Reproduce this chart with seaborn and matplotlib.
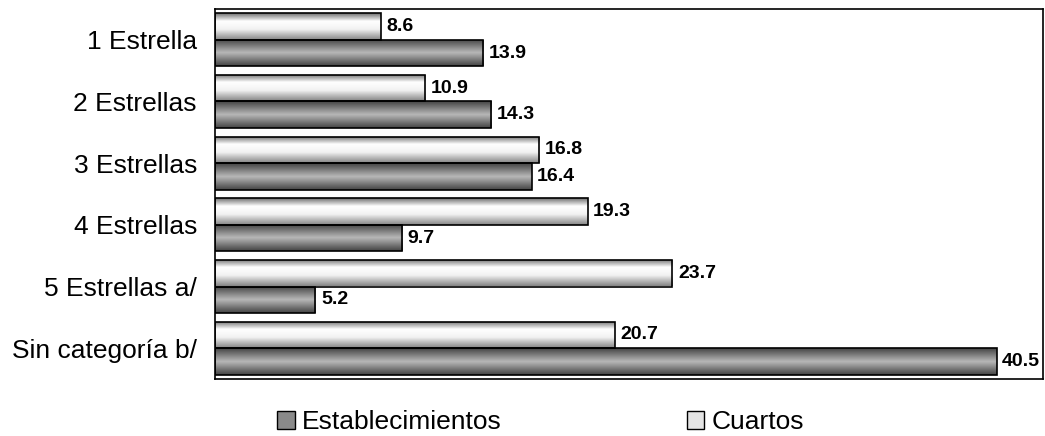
import numpy as np
import pandas as pd
import matplotlib
matplotlib.use('Agg')
import matplotlib.pyplot as plt
import seaborn as sns
from matplotlib.colors import LinearSegmentedColormap
from matplotlib.patches import Patch

# Data
categorias = ['1 Estrella', '2 Estrellas', '3 Estrellas', '4 Estrellas',
              '5 Estrellas a/', 'Sin categoría b/']
cuartos = [8.6, 10.9, 16.8, 19.3, 23.7, 20.7]
establecimientos = [13.9, 14.3, 16.4, 9.7, 5.2, 40.5]
series = ['Cuartos', 'Establecimientos']

df = pd.DataFrame({
    'categoria': categorias * 2,
    'serie': ['Cuartos'] * len(cuartos) + ['Establecimientos'] * len(establecimientos),
    'valor': cuartos + establecimientos,
})

sns.set_theme(style='white')
plt.rcParams['font.family'] = ['Liberation Sans', 'DejaVu Sans']
plt.rcParams['text.color'] = 'black'
plt.rcParams['ytick.color'] = 'black'

fig = plt.figure(figsize=(10.45, 4.36), dpi=100)
ax = fig.add_axes([215 / 1045, 1 - 379 / 436, 828 / 1045, 370 / 436])

sns.barplot(data=df, x='valor', y='categoria', hue='serie', hue_order=series,
            order=categorias, orient='h', width=0.86, errorbar=None,
            palette=['#f0f0f0', '#909090'], saturation=1,
            edgecolor='black', linewidth=1.2, legend=False, ax=ax)

# cylinder-like gradient fills, clipped to each bar
grad_cuartos = LinearSegmentedColormap.from_list(
    'cuartos', [(0, '#707070'), (0.3, '#ffffff'), (0.6, '#f2f2f2'), (1, '#858585')])
grad_estab = LinearSegmentedColormap.from_list(
    'estab', [(0, '#444444'), (0.5, '#b8b8b8'), (1, '#444444')])
grad = np.linspace(0, 1, 64).reshape(-1, 1)

for container, cmap in zip(ax.containers, [grad_cuartos, grad_estab]):
    for bar in container:
        x0, y0 = bar.get_x(), bar.get_y()
        w, h = bar.get_width(), bar.get_height()
        im = ax.imshow(grad, cmap=cmap, aspect='auto', origin='upper',
                       extent=(x0, x0 + w, y0 + h, y0), zorder=2,
                       interpolation='bilinear')
        im.set_clip_path(bar)
        bar.set_facecolor('none')
        bar.set_zorder(3)
    ax.bar_label(container, fmt='%.1f', padding=4, fontweight='bold',
                 fontsize=14, color='black')

ax.set_xlim(0, 42.9)
ax.set_ylim(len(categorias) - 0.5, -0.5)
ax.set_xticks([])
ax.set_xlabel('')
ax.set_ylabel('')
ax.tick_params(axis='y', length=0, pad=13, labelsize=19, labelcolor='black')
for spine in ax.spines.values():
    spine.set_visible(True)
    spine.set_color('black')
    spine.set_linewidth(1.2)

handles = [Patch(facecolor='#8a8a8a', edgecolor='black'),
           Patch(facecolor='#e4e4e4', edgecolor='black')]
leg = fig.legend(handles, ['Establecimientos', 'Cuartos'], loc='center left',
                 bbox_to_anchor=(277 / 1045, 1 - 422 / 436), ncol=2, frameon=False,
                 fontsize=19, handlelength=0.68, handleheight=0.68,
                 handletextpad=0.27, columnspacing=7.0, borderpad=0, borderaxespad=0)
for t in leg.get_texts():
    t.set_color('black')

fig.savefig('out.png', dpi=100)
